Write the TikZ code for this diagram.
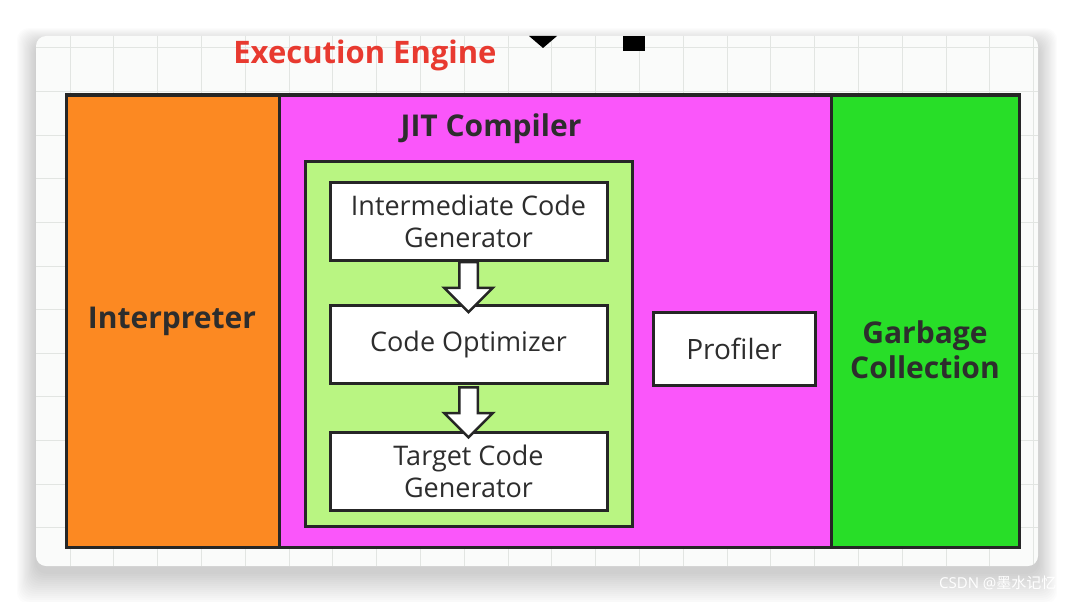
\documentclass[tikz,border=0pt]{standalone}
\usepackage{fontspec}
\setmainfont{Open Sans}
\newfontfamily\cjkfont{Noto Sans CJK SC}
\usetikzlibrary{calc,shapes.arrows}
\definecolor{interpcol}{RGB}{252,137,34}
\definecolor{jitcol}{RGB}{250,86,250}
\definecolor{gccol}{RGB}{40,222,40}
\definecolor{boxcol}{RGB}{185,245,130}
\definecolor{linecol}{RGB}{38,38,38}
\definecolor{titlecol}{RGB}{232,58,48}
\definecolor{gridcol}{RGB}{226,229,226}
\definecolor{cardcol}{RGB}{250,251,250}
\definecolor{textcol}{RGB}{45,45,45}
\begin{document}
\begin{tikzpicture}[x=1pt, y=-1pt,
  region/.style={draw=linecol, line width=3pt, inner sep=0pt},
  stage/.style={draw=linecol, line width=3pt, fill=white, inner sep=0pt,
    minimum width=277pt, minimum height=78pt, align=center,
    font=\fontsize{27}{32}\selectfont, text=textcol},
  bigtext/.style={font=\fontsize{30}{35}\selectfont\bfseries, text=textcol, align=center},
  blockarrow/.style={single arrow, draw=linecol, line width=2.5pt, fill=white,
    inner sep=8pt, minimum height=50pt, single arrow head extend=15pt,
    shape border rotate=270}]
\useasboundingbox (0,0) rectangle (1074,602);
\fill[white] (0,0) rectangle (1074,602);
% card shadow
\foreach \i in {1,...,16}
  \fill[black, opacity=0.012, rounded corners=12pt]
    (36-1.2*\i,36-1*\i+8) rectangle (1038+1.2*\i,566+2*\i+6);
\fill[cardcol, rounded corners=10pt] (36,36) rectangle (1038,566);
% grid
\begin{scope}
\clip[rounded corners=10pt] (36,36) rectangle (1038,566);
\foreach \x in {0,...,22}
  \draw[gridcol, line width=1pt] (70+43.8*\x,36) -- (70+43.8*\x,566);
\foreach \y in {0,...,11}
  \draw[gridcol, line width=1pt] (36,48+43.6*\y) -- (1038,48+43.6*\y);
\fill[black] (529,36) -- (557,36) -- (543,48) -- cycle;
\fill[black] (623,36) rectangle (645,51);
\end{scope}
\node[font=\fontsize{31}{34}\selectfont\bfseries, text=titlecol] (title) at (365,55) {Execution Engine};
% engine parts
\node[region, fill=interpcol, minimum width=213pt, minimum height=452pt] (interp) at (172.5,321) {};
\node[region, fill=jitcol, minimum width=552pt, minimum height=452pt] (jit) at (555,321) {};
\node[region, fill=gccol, minimum width=188pt, minimum height=452pt] (gc) at (925,321) {};
\node[bigtext] (interplabel) at (172,321) {Interpreter};
\node[bigtext] (jitlabel) at (491,129) {JIT Compiler};
\node[bigtext] (gclabel) at (925,350) {Garbage\\Collection};
% JIT pipeline
\node[region, fill=boxcol, minimum width=327pt, minimum height=365pt] (pipe) at (469,343.5) {};
\node[stage] (icg) at (468.5,221) {Intermediate Code\\Generator};
\node[stage] (opt) at (468.5,344) {Code Optimizer};
\node[stage] (tcg) at (468.5,471.5) {Target Code\\Generator};
\node[stage, minimum width=162pt, minimum height=73pt, font=\fontsize{28}{32}\selectfont] (prof) at (734,348.5) {Profiler};
\node[blockarrow] (a1) at ($(icg.south)!0.5!(opt.north)$) {};
\node[blockarrow] (a2) at ($(opt.south)!0.5!(tcg.north)$) {};
% watermark
\node[text=white, font=\fontsize{15}{18}\selectfont, anchor=east] (mark) at (1060,583) {CSDN @{\cjkfont 墨水记忆}};
\end{tikzpicture}
\end{document}
